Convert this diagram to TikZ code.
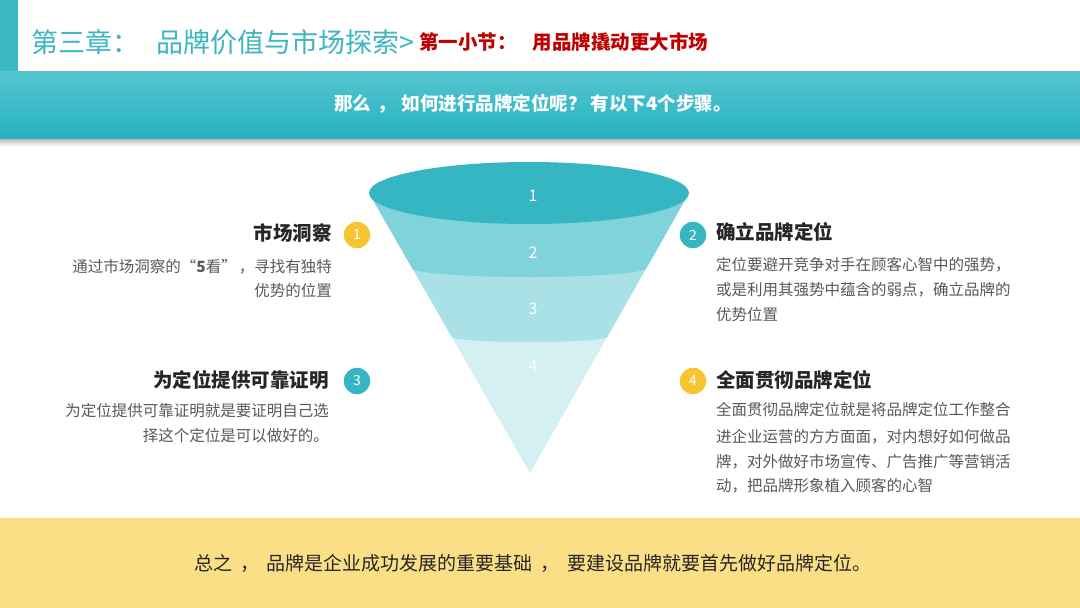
\documentclass[tikz,border=0pt]{standalone}
\usepackage{fontspec}
\setmainfont{Noto Sans CJK SC}
\usetikzlibrary{calc}
\definecolor{teal1}{HTML}{36B5C2}
\definecolor{band2}{HTML}{80D2DB}
\definecolor{band3}{HTML}{A9E1E6}
\definecolor{band4}{HTML}{D4F0F3}
\definecolor{ttl}{HTML}{3BB6C2}
\definecolor{redt}{HTML}{C00000}
\definecolor{yel}{HTML}{F7C530}
\definecolor{bodyc}{HTML}{595959}
\definecolor{headc}{HTML}{262626}
\definecolor{bandtop}{HTML}{55C5D0}
\definecolor{bandbot}{HTML}{26B2C2}
\definecolor{foot}{HTML}{FBDF86}
\begin{document}
\begin{tikzpicture}[x=1pt,y=-1pt,
  numc/.style={circle,minimum size=26.5pt,inner sep=0pt,text=white,font=\fontsize{14}{14}\selectfont},
  heading/.style={inner sep=0pt,text=headc,font=\fontsize{19.5}{20}\selectfont\bfseries},
  bodyline/.style={inner sep=0pt,text=bodyc,font=\fontsize{15.5}{16}\selectfont},
  funnum/.style={inner sep=0pt,text=white,font=\fontsize{16}{16}\selectfont}]
\useasboundingbox (0,0) rectangle (1080,608);
\fill[white] (0,0) rectangle (1080,608);
% header
\fill[ttl] (0,0) rectangle (18,71);
\node[anchor=west,inner sep=0pt,text=ttl,font=\fontsize{27}{27}\selectfont] (title) at (31,42) {第三章：\hspace{17pt}品牌价值与市场探索>};
\node[anchor=west,inner sep=0pt,text=redt,font=\fontsize{19.5}{20}\selectfont\bfseries] (sub) at (419,42) {第一小节：\hspace{16pt}用品牌撬动更大市场};
% banner shadow
\shade[top color=black!35,bottom color=white] (0,137) rectangle (1080,146);
\shade[top color=bandtop,bottom color=bandbot] (0,71) rectangle (1080,138);
\node[inner sep=0pt,text=white,font=\fontsize{18.5}{19}\selectfont\bfseries] (banner) at (533,104) {那么\hspace{6pt}，\hspace{6pt}如何进行品牌定位呢？\hspace{4pt}有以下4个步骤。};
% footer
\fill[foot] (0,518) rectangle (1080,608);
\node[inner sep=0pt,text=headc,font=\fontsize{19}{19}\selectfont] (summary) at (533,563) {总之\hspace{8pt}，\hspace{8pt}品牌是企业成功发展的重要基础\hspace{8pt}，\hspace{8pt}要建设品牌就要首先做好品牌定位。};
% funnel
\coordinate (apex) at (530,473);
\fill[band4] (369,193) -- (apex) -- (689,193) -- cycle;
\fill[band3] (369,193) -- (689,193) -- (607.2,337) arc[start angle=0,end angle=180,x radius=77.7,y radius=5] -- cycle;
\fill[band2] (369,193) -- (689,193) -- (646.4,268) arc[start angle=0,end angle=180,x radius=117.2,y radius=9] -- cycle;
\fill[teal1] (529,193) ellipse[x radius=160,y radius=31];
\node[funnum] (f1) at (533,196) {1};
\node[funnum] (f2) at (533,253) {2};
\node[funnum] (f3) at (533,309) {3};
\node[funnum] (f4) at (533,366) {4};
% circles
\node[numc,fill=yel] (c1) at (357,235) {1};
\node[numc,fill=teal1] (c2) at (693,235) {2};
\node[numc,fill=teal1] (c3) at (357,381) {3};
\node[numc,fill=yel] (c4) at (693,381) {4};
% left step 1
\node[heading,anchor=east] (h1) at (332,233) {市场洞察};
\node[bodyline,anchor=east] (b1a) at (332,267) {通过市场洞察的“\textbf{5}看”\hspace{2pt}，\hspace{0pt}寻找有独特};
\node[bodyline,anchor=east] (b1b) at (332,291) {优势的位置};
% left step 3
\node[heading,anchor=east] (h3) at (329,380) {为定位提供可靠证明};
\node[bodyline,anchor=east] (b3a) at (329,411) {为定位提供可靠证明就是要证明自己选};
\node[bodyline,anchor=east] (b3b) at (329,436) {择这个定位是可以做好的。};
% right step 2
\node[heading,anchor=west] (h2) at (716,232) {确立品牌定位};
\node[bodyline,anchor=west] (b2a) at (716,265) {定位要避开竞争对手在顾客心智中的强势，};
\node[bodyline,anchor=west] (b2b) at (716,290) {或是利用其强势中蕴含的弱点，确立品牌的};
\node[bodyline,anchor=west] (b2c) at (716,315) {优势位置};
% right step 4
\node[heading,anchor=west] (h4) at (716,380) {全面贯彻品牌定位};
\node[bodyline,anchor=west] (b4a) at (716,410) {全面贯彻品牌定位就是将品牌定位工作整合};
\node[bodyline,anchor=west] (b4b) at (716,437) {进企业运营的方方面面，对内想好如何做品};
\node[bodyline,anchor=west] (b4c) at (716,462) {牌，对外做好市场宣传、广告推广等营销活};
\node[bodyline,anchor=west] (b4d) at (716,486) {动，把品牌形象植入顾客的心智};
\end{tikzpicture}
\end{document}
